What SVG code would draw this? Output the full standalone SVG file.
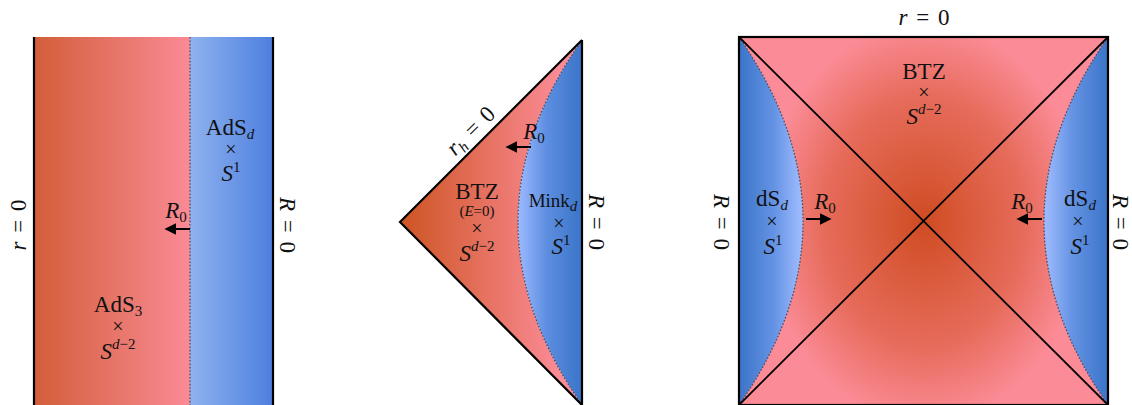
<svg xmlns="http://www.w3.org/2000/svg" width="1132" height="405" viewBox="0 0 1132 405">
<style>
text{font-family:"Liberation Serif","DejaVu Serif",serif;font-size:23px;fill:#111;text-anchor:middle}
.i{font-style:italic}
.sm{font-size:15px}
.x{font-size:20px}
.eq{word-spacing:3px}
.edge{stroke:#000;stroke-width:2.2;fill:none}
.diag{stroke:#000;stroke-width:1.8;fill:none}
.dot{stroke:#4a4f66;stroke-width:1.3;stroke-dasharray:1.6 1.8;fill:none}
.arr{stroke:#000;stroke-width:2;fill:none}
</style>
<defs>
<linearGradient id="r1" x1="34" y1="0" x2="190" y2="0" gradientUnits="userSpaceOnUse"><stop offset="0" stop-color="#d25e39"/><stop offset="1" stop-color="#fa8a95"/></linearGradient>
<linearGradient id="b1" x1="190" y1="0" x2="273" y2="0" gradientUnits="userSpaceOnUse"><stop offset="0" stop-color="#90b2ee"/><stop offset="1" stop-color="#4c7fe0"/></linearGradient>
<linearGradient id="r2" x1="400" y1="0" x2="560" y2="0" gradientUnits="userSpaceOnUse"><stop offset="0" stop-color="#cd5422"/><stop offset="1" stop-color="#fb8b96"/></linearGradient>
<linearGradient id="b2" x1="518" y1="0" x2="582" y2="0" gradientUnits="userSpaceOnUse"><stop offset="0" stop-color="#9cbaff"/><stop offset="0.45" stop-color="#5d8ee0"/><stop offset="1" stop-color="#3a74c8"/></linearGradient>
<radialGradient id="r3" cx="924" cy="222" r="200" gradientUnits="userSpaceOnUse" gradientTransform="translate(924 222) scale(0.8 1) translate(-924 -222)"><stop offset="0" stop-color="#cf4c22"/><stop offset="0.62" stop-color="#e66b5a"/><stop offset="1" stop-color="#fb8b96"/></radialGradient>
<linearGradient id="b3l" x1="739" y1="0" x2="803" y2="0" gradientUnits="userSpaceOnUse"><stop offset="0" stop-color="#3a74c8"/><stop offset="0.55" stop-color="#6593e4"/><stop offset="1" stop-color="#a2beff"/></linearGradient>
<linearGradient id="b3r" x1="1108" y1="0" x2="1043" y2="0" gradientUnits="userSpaceOnUse"><stop offset="0" stop-color="#3a74c8"/><stop offset="0.55" stop-color="#6593e4"/><stop offset="1" stop-color="#a2beff"/></linearGradient>
<marker id="ah" viewBox="0 0 10 10" refX="2" refY="5" markerWidth="6" markerHeight="6" orient="auto" markerUnits="strokeWidth"><path d="M0,0 L10,5 L0,10 Z" fill="#000"/></marker>
</defs>

<g id="panel1">
<rect x="34" y="37" width="156" height="368" fill="url(#r1)"/>
<rect x="190" y="37" width="83" height="368" fill="url(#b1)"/>
<line class="dot" x1="190" y1="37" x2="190" y2="405"/>
<line class="edge" x1="34" y1="37" x2="34" y2="405"/>
<line class="edge" x1="273" y1="37" x2="273" y2="405"/>
<text class="eq" transform="translate(26 225) rotate(-90)"><tspan class="i">r</tspan> = 0</text>
<text class="eq" transform="translate(280 225) rotate(90)"><tspan class="i">R</tspan> = 0</text>
<g id="adsd"><text x="230" y="135">AdS<tspan class="i sm" dy="4">d</tspan></text><text class="x" x="231" y="156">×</text><text x="231" y="181"><tspan class="i">S</tspan><tspan class="sm" dy="-9">1</tspan></text></g>
<g id="ads3"><text x="118" y="312">AdS<tspan class="sm" dy="4">3</tspan></text><text class="x" x="118" y="333">×</text><text x="118" y="359"><tspan class="i">S</tspan><tspan class="i sm" dy="-10">d</tspan><tspan class="sm">−2</tspan></text></g>
</g>

<g id="panel2">
<path d="M400,222 L582,40 Q454,222 582,405 Z" fill="url(#r2)"/>
<path d="M582,40 Q454,222 582,405 Z" fill="url(#b2)"/>
<path class="dot" d="M582,40 Q454,222 582,405"/>
<path class="edge" d="M582,40 L400,222 L582,405"/>
<line class="edge" x1="582" y1="40" x2="582" y2="405"/>
<text class="eq" transform="translate(476 136) rotate(-45)"><tspan class="i">r<tspan class="sm" dy="4">h</tspan></tspan><tspan dy="-4"> = 0</tspan></text>
<text class="eq" transform="translate(589 222) rotate(90)"><tspan class="i">R</tspan> = 0</text>
<g id="btz2"><text x="477" y="199">BTZ</text><text x="477" y="216" class="sm">(<tspan class="i">E</tspan>=0)</text><text class="x" x="477" y="235">×</text><text x="477" y="261"><tspan class="i">S</tspan><tspan class="i sm" dy="-10">d</tspan><tspan class="sm">−2</tspan></text></g>
<g id="mink"><text x="553" y="207" style="font-size:19px">Mink<tspan class="i sm" dy="4">d</tspan></text><text class="x" x="559" y="230">×</text><text x="561" y="254"><tspan class="i">S</tspan><tspan class="sm" dy="-9">1</tspan></text></g>
</g>

<g id="panel3">
<rect x="739" y="37" width="369" height="368" fill="url(#r3)"/>
<path d="M739,37 Q867,222 739,405 Z" fill="url(#b3l)"/>
<path d="M1108,37 Q980,222 1108,405 Z" fill="url(#b3r)"/>
<path class="dot" d="M739,37 Q867,222 739,405"/>
<path class="dot" d="M1108,37 Q980,222 1108,405"/>
<line class="diag" x1="739" y1="37" x2="1108" y2="405"/>
<line class="diag" x1="1108" y1="37" x2="739" y2="405"/>
<rect class="edge" x="739" y="37" width="369" height="368"/>
<text class="eq" x="924" y="25"><tspan class="i">r</tspan> = 0</text>
<text class="eq" transform="translate(714 222) rotate(90)"><tspan class="i">R</tspan> = 0</text>
<text class="eq" transform="translate(1113 222) rotate(90)"><tspan class="i">R</tspan> = 0</text>
<g id="btz3"><text x="924" y="79">BTZ</text><text class="x" x="924" y="99">×</text><text x="924" y="124"><tspan class="i">S</tspan><tspan class="i sm" dy="-10">d</tspan><tspan class="sm">−2</tspan></text></g>
<g id="dsl"><text x="772" y="206">dS<tspan class="i sm" dy="4">d</tspan></text><text class="x" x="772" y="228">×</text><text x="773" y="254"><tspan class="i">S</tspan><tspan class="sm" dy="-9">1</tspan></text></g>
<g id="dsr"><text x="1080" y="206">dS<tspan class="i sm" dy="4">d</tspan></text><text class="x" x="1078" y="228">×</text><text x="1080" y="254"><tspan class="i">S</tspan><tspan class="sm" dy="-9">1</tspan></text></g>
</g>

<g id="connectors">
<line class="arr" x1="190" y1="229" x2="174" y2="229" marker-end="url(#ah)"/>
<text x="176" y="218"><tspan class="i">R</tspan><tspan class="sm" dy="4">0</tspan></text>
<line class="arr" x1="531" y1="147" x2="515" y2="147" marker-end="url(#ah)"/>
<text x="534" y="139"><tspan class="i">R</tspan><tspan class="sm" dy="4">0</tspan></text>
<line class="arr" x1="806" y1="219" x2="822" y2="219" marker-end="url(#ah)"/>
<text x="825" y="209"><tspan class="i">R</tspan><tspan class="sm" dy="4">0</tspan></text>
<line class="arr" x1="1042" y1="219" x2="1026" y2="219" marker-end="url(#ah)"/>
<text x="1022" y="209"><tspan class="i">R</tspan><tspan class="sm" dy="4">0</tspan></text>
</g>
</svg>
